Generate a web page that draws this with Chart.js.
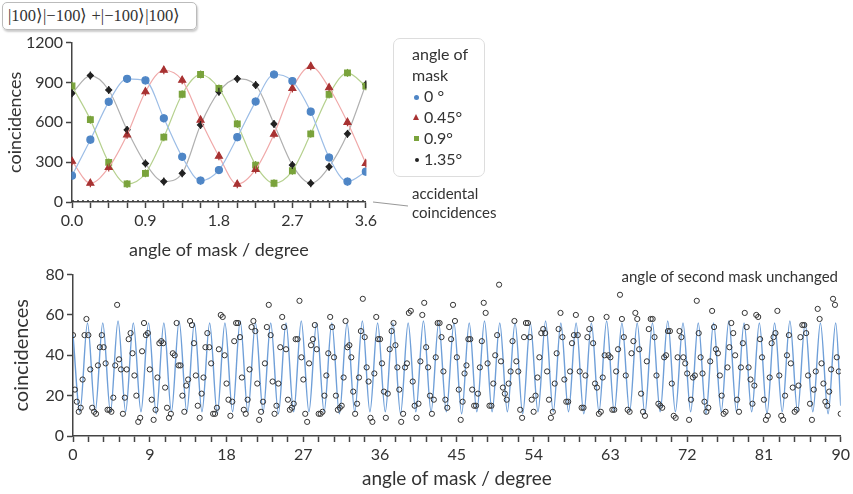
<!DOCTYPE html>
<html>
<head>
<meta charset="utf-8">
<script src="https://cdn.jsdelivr.net/npm/chart.js@4"></script>
<style>
  body { margin: 0; background: #fff; width: 853px; height: 494px; position: relative; overflow: hidden; font-family: Lato, sans-serif; color: #333; }
  canvas { position: absolute; }
  #ket { position: absolute; left: 2px; top: 2px; width: 188px; height: 26px; border: 1px solid #bbb; border-radius: 5px;
         box-shadow: 1px 2px 2px #ccc; font-family: "Liberation Serif", serif; font-size: 16.5px; line-height: 26px; padding-left: 5px; color: #333; white-space: nowrap; }
  #legend { position: absolute; left: 393px; top: 38px; width: 90px; height: 137px; border: 1px solid #ddd; border-radius: 7px; font-size: 16px; }
  #legend .t { position: absolute; left: 18px; }
  #legend .m { position: absolute; }
  .note { position: absolute; font-size: 15px; color: #333; line-height: 19px; }
  svg { position: absolute; left: 0; top: 0; }
</style>
</head>
<body>
<div id="ket">|100⟩|−100⟩ +|−100⟩|100⟩</div>
<canvas id="top" width="380" height="235" style="left:0;top:30px"></canvas>
<canvas id="bottom" width="853" height="232" style="left:0;top:262px"></canvas>
<svg width="853" height="494"><line x1="373" y1="202" x2="408" y2="206" stroke="#999" stroke-width="1.2"/></svg>
<div id="legend">
  <div class="t" style="top:5px">angle of</div>
  <div class="t" style="top:26px">mask</div>
  <span class="m" style="left:20px;top:56px;width:5px;height:5px;border-radius:3px;background:#4f86c6"></span>
  <div class="t" style="top:47px;left:30px">0 °</div>
  <span class="m" style="left:19px;top:75px;width:0;height:0;border-left:3px solid transparent;border-right:3px solid transparent;border-bottom:6px solid #a83232"></span>
  <div class="t" style="top:68px;left:30px">0.45°</div>
  <span class="m" style="left:20px;top:97px;width:5px;height:5px;background:#7aa33c"></span>
  <div class="t" style="top:89px;left:30px">0.9°</div>
  <span class="m" style="left:21px;top:119px;width:4px;height:4px;border-radius:2px;background:#222"></span>
  <div class="t" style="top:110px;left:30px">1.35°</div>
</div>
<div class="note" style="left:412px;top:184px">accidental<br>coincidences</div>
<div class="note" style="right:15px;top:267px">angle of second mask unchanged</div>
<script>
// top chart: four mask angles, step 0.225 degree
const topX = [0, 0.225, 0.45, 0.675, 0.9, 1.125, 1.35, 1.575, 1.8, 2.025, 2.25, 2.475, 2.7, 2.925, 3.15, 3.375, 3.6];
const mask0 = [198, 469, 754, 927, 915, 630, 340, 161, 240, 488, 756, 960, 910, 680, 335, 154, 228];
const mask045 = [307, 141, 260, 506, 830, 992, 917, 617, 345, 134, 245, 510, 855, 1021, 860, 600, 290];
const mask09 = [873, 620, 298, 136, 216, 488, 811, 960, 855, 588, 278, 141, 235, 513, 810, 972, 872];
const mask135 = [818, 952, 843, 543, 290, 154, 216, 580, 830, 927, 880, 588, 278, 141, 265, 513, 885];
const accidentalX = [0, 3.6];
const accidental = [8, 8];
const errSize = 30;

// bottom chart: measured coincidences every 0.225 degree from 0 to 90
const step = 0.225;
const counts = [
  50, 23, 17, 12, 14, 28, 50, 58, 50, 33, 14, 12, 11, 35, 44, 50, 44, 36, 13, 13,
  12, 19, 35, 65, 38, 33, 11, 19, 33, 48, 51, 41, 30, 20, 7, 9, 42, 56, 50, 51,
  33, 18, 8, 13, 29, 46, 47, 46, 24, 14, 9, 11, 41, 40, 56, 35, 35, 20, 12, 25,
  28, 57, 55, 46, 30, 15, 9, 21, 29, 44, 51, 44, 36, 11, 11, 14, 43, 60, 59, 40,
  26, 18, 10, 17, 47, 56, 56, 49, 29, 13, 11, 18, 33, 54, 57, 52, 26, 8, 12, 17,
  36, 54, 65, 50, 27, 11, 15, 26, 44, 59, 54, 43, 18, 13, 14, 16, 48, 48,
  67, 39, 28, 11, 7, 36, 45, 48, 55, 43, 11, 11, 12, 20, 30, 41, 59, 54, 39, 20,
  13, 14, 15, 29, 57, 44, 45, 39, 22, 11, 16, 29, 52, 68, 49, 34, 27, 9, 7, 31,
  59, 48, 48,
  36, 22, 9, 21, 43, 52, 56, 45, 34, 23, 7, 11, 34, 36, 61, 62, 27, 15, 9, 16,
  37, 60, 66, 44, 34, 20, 11, 18, 39, 56, 56, 49, 32, 18, 14, 54, 48, 65, 57, 39,
  23, 8, 17, 31, 35, 48, 48, 23, 15, 15, 21, 34, 47, 66, 61, 36, 15, 15, 26, 40,
  50, 75, 37, 24, 21, 18, 26, 32, 47, 57, 37, 32, 13, 9, 49, 56, 56, 49, 18, 12,
  20, 29, 39, 51, 53, 51, 32, 18, 9, 12, 26, 41, 53, 61, 49, 28, 17, 17, 32, 46,
  50, 60, 50, 32, 14, 14, 30, 49, 53, 58, 46, 26, 24, 11, 12, 29, 40, 59, 40, 39,
  13, 13, 32, 43, 70, 58, 49, 30, 13, 12, 41, 47, 61, 58, 43, 21, 12, 10, 37, 53,
  58, 58, 49, 30, 16, 15, 14, 39, 40, 52, 52, 26, 10, 9, 39, 52, 49, 39, 36, 31,
  8, 18, 29, 30, 67, 51, 39, 31, 17, 12, 14, 37, 62, 54, 43, 41, 30, 20, 11, 12,
  34, 44, 56, 51, 40, 18, 12, 34, 46, 61, 54, 34, 28, 16, 25, 60, 59, 48, 39, 18,
  8, 10, 29, 46, 49, 51, 62, 30, 10, 8, 20, 40, 50, 36, 24, 12, 13, 25, 49, 55,
  55, 51, 30, 16, 8, 23, 32, 63, 58, 36, 26, 17, 15, 22, 33, 68, 65, 39, 32, 11
];
// fitted curve, read at its turning points
const fitX = [0, 0.81, 1.70, 2.60, 3.49, 4.39, 5.28, 6.17, 7.07, 7.97, 8.86, 9.76, 10.65, 11.54, 12.44, 13.34, 14.23,
  15.12, 16.02, 16.91, 17.81, 18.71, 19.60, 20.50, 21.39, 22.29, 23.18, 24.08, 24.97, 25.87, 26.76, 27.66, 28.55,
  29.44, 30.34, 31.23, 32.13, 33.03, 33.92, 34.81, 35.71, 36.61, 37.50, 38.40, 39.29, 40.19, 41.08, 41.98, 42.87,
  43.77, 44.66, 45.56, 46.45, 47.34, 48.24, 49.13, 50.03, 50.92, 51.82, 52.72, 53.61, 54.51, 55.40, 56.30, 57.19,
  58.09, 58.98, 59.88, 60.77, 61.66, 62.56, 63.45, 64.35, 65.25, 66.14, 67.04, 67.93, 68.83, 69.72, 70.62, 71.51,
  72.41, 73.30, 74.20, 75.09, 75.99, 76.88, 77.78, 78.67, 79.56, 80.46, 81.36, 82.25, 83.14, 84.04, 84.94, 85.83,
  86.73, 87.62, 88.52, 89.41, 90];
const fitY = [50, 12, 56, 12, 56, 12, 57, 12, 56, 12, 56, 11, 56, 12, 57, 12, 56, 12, 56, 11,
  56, 12, 57, 12, 56, 12, 56, 11, 56, 12, 57, 12, 56, 12, 56, 11, 56, 12, 57, 12,
  56, 12, 56, 11, 56, 12, 57, 12, 56, 12, 56, 11, 56, 12, 57, 12, 56, 12, 56, 11,
  56, 12, 57, 12, 56, 12, 56, 11, 56, 12, 57, 12, 56, 12, 56, 11, 56, 12, 57, 12,
  56, 12, 56, 11, 56, 12, 57, 12, 56, 12, 56, 11, 56, 12, 57, 12, 56, 12, 56, 11, 56, 15];

const pts = (xs, ys) => ys.map((y, i) => ({ x: xs[i], y: y }));
const axisColor = "#444";
const tickFont = { family: "Lato", size: 16 };

const errorBars = {
  id: "errorBars",
  afterDatasetsDraw(chart) {
    const ctx = chart.ctx;
    const ys = chart.scales.y;
    chart.data.datasets.forEach((ds, di) => {
      if (!ds.errorBar) return;
      const meta = chart.getDatasetMeta(di);
      ctx.save();
      ctx.strokeStyle = ds.pointBackgroundColor;
      ctx.lineWidth = 1.2;
      meta.data.forEach((p, i) => {
        const v = ds.data[i].y;
        ctx.beginPath();
        ctx.moveTo(p.x, ys.getPixelForValue(v - ds.errorBar));
        ctx.lineTo(p.x, ys.getPixelForValue(v + ds.errorBar));
        ctx.stroke();
      });
      ctx.restore();
    });
  },
};

function series(data, line, mark, style, r) {
  return {
    data: pts(topX, data),
    borderColor: line,
    borderWidth: 1.2,
    pointBackgroundColor: mark,
    pointBorderColor: mark,
    pointStyle: style,
    pointRadius: r,
    cubicInterpolationMode: "monotone",
    errorBar: errSize,
  };
}

new Chart(document.getElementById("top"), {
  type: "line",
  data: {
    datasets: [
      {
        data: pts(accidentalX, accidental),
        borderColor: "#333",
        borderWidth: 1.2,
        borderDash: [2, 3],
        pointRadius: 0,
      },
      series(mask0, "#9cbde6", "#4f86c6", "circle", 3.5),
      series(mask045, "#f0a9a9", "#a83232", "triangle", 4),
      series(mask09, "#b6d18f", "#7aa33c", "rect", 4),
      series(mask135, "#b0b0b0", "#222", "rectRot", 3),
    ],
  },
  options: {
    responsive: false,
    animation: false,
    layout: { padding: { top: 11, right: 11 } },
    plugins: { legend: { display: false }, tooltip: { enabled: false } },
    scales: {
      x: {
        type: "linear",
        min: 0,
        max: 3.6,
        afterBuildTicks: (s) => { s.ticks = topX.map((v) => ({ value: v })); },
        afterFit: (s) => { s.height = 63; },
        ticks: {
          autoSkip: false,
          maxRotation: 0,
          color: "#333",
          font: tickFont,
          callback: (v, i) => (i % 4 === 0 ? v.toFixed(1) : ""),
        },
        grid: { drawOnChartArea: false, tickLength: 6, tickColor: axisColor, tickWidth: 1.5 },
        border: { color: axisColor, width: 1.5 },
        title: { display: true, text: "angle of mask / degree", color: "#333", font: { family: "Lato", size: 18 } },
      },
      y: {
        min: 0,
        max: 1200,
        afterFit: (s) => { s.width = 72; },
        ticks: { stepSize: 300, color: "#333", font: tickFont, callback: (v) => String(v) },
        grid: { drawOnChartArea: false, tickLength: 6, tickColor: axisColor, tickWidth: 1.5 },
        border: { color: axisColor, width: 1.5 },
        title: { display: true, text: "coincidences", color: "#333", font: { family: "Lato", size: 18 } },
      },
    },
  },
  plugins: [errorBars],
});

const bottomTicks = [];
for (let v = 0; v <= 50; v++) bottomTicks.push(v * 1.8);

new Chart(document.getElementById("bottom"), {
  type: "scatter",
  data: {
    datasets: [
      {
        data: counts.map((y, i) => ({ x: i * step, y: y })),
        pointStyle: "circle",
        pointRadius: 2.6,
        pointBorderWidth: 1,
        pointBorderColor: "#333",
        pointBackgroundColor: "rgba(255,255,255,0)",
      },
      {
        type: "line",
        data: pts(fitX, fitY),
        borderColor: "#6f9fd8",
        borderWidth: 1.4,
        pointRadius: 0,
        cubicInterpolationMode: "monotone",
      },
    ],
  },
  options: {
    responsive: false,
    animation: false,
    layout: { padding: { top: 12, right: 12 } },
    plugins: { legend: { display: false }, tooltip: { enabled: false } },
    scales: {
      x: {
        type: "linear",
        min: 0,
        max: 90,
        afterBuildTicks: (s) => { s.ticks = bottomTicks.map((v) => ({ value: v })); },
        afterFit: (s) => { s.height = 58; },
        ticks: {
          autoSkip: false,
          maxRotation: 0,
          color: "#333",
          font: tickFont,
          callback: (v, i) => (i % 5 === 0 ? Math.round(v) : ""),
        },
        grid: { drawOnChartArea: false, tickLength: 6, tickColor: axisColor, tickWidth: 1.5 },
        border: { color: axisColor, width: 1.5 },
        title: { display: true, text: "angle of mask / degree", color: "#333", font: { family: "Lato", size: 19 } },
      },
      y: {
        min: 0,
        max: 80,
        afterFit: (s) => { s.width = 73; },
        ticks: { stepSize: 20, color: "#333", font: tickFont },
        grid: { drawOnChartArea: false, tickLength: 6, tickColor: axisColor, tickWidth: 1.5 },
        border: { color: axisColor, width: 1.5 },
        title: { display: true, text: "coincidences", color: "#333", font: { family: "Lato", size: 20 }, padding: { top: 10, bottom: 4 } },
      },
    },
  },
});
</script>
</body>
</html>
